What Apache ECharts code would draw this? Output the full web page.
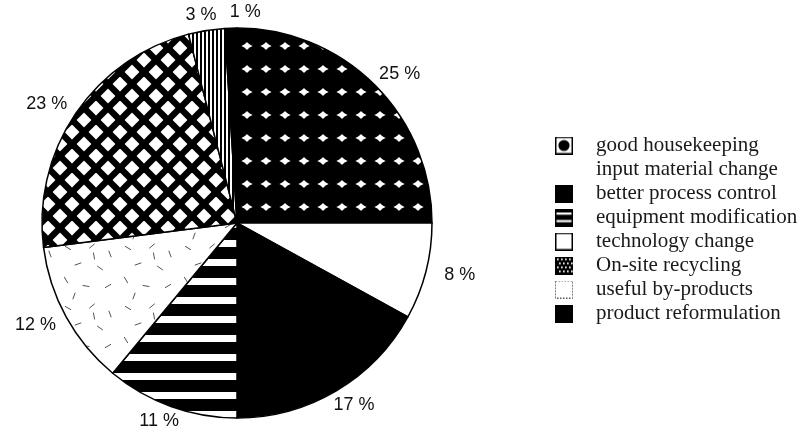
<!DOCTYPE html>
<html>
<head>
<meta charset="utf-8">
<script src="https://cdn.jsdelivr.net/npm/echarts@6/dist/echarts.min.js"></script>
<style>
html,body{margin:0;padding:0;background:#fff;}
#chart{width:811px;height:444px;}
</style>
</head>
<body>
<div id="chart"></div>
<script>
// ---- data ----
const categories = ['good housekeeping', 'input material change', 'better process control', 'equipment modification', 'technology change', 'On-site recycling', 'useful by-products', 'product reformulation'];
const values = [25, 8, 17, 11, 12, 23, 3, 1];
const labelSuffix = ' %';

// ---- layout constants ----
const CX = 237, CY = 223, R = 195, LRX = 230, LRY = 211, START = 90;

function tile(w, h, draw) {
  const c = document.createElement('canvas');
  c.width = w; c.height = h;
  const g = c.getContext('2d');
  draw(g, w, h);
  return c;
}

// slice patterns
const dots = tile(19, 23, (g, w, h) => {
  g.fillStyle = '#fff'; g.fillRect(0, 0, w, h);
  g.fillStyle = '#000';
  for (let i = -1; i <= 1; i++) for (let j = -1; j <= 1; j++) {
    g.beginPath(); g.arc(w / 2 + i * w, h / 2 + j * h, 12.1, 0, Math.PI * 2); g.fill();
  }
});
const hstripes = tile(8, 19, (g, w, h) => {
  g.fillStyle = '#fff'; g.fillRect(0, 0, w, h);
  g.fillStyle = '#000'; g.fillRect(0, 0, w, 12);
});
const vstripes = tile(4, 8, (g, w, h) => {
  g.fillStyle = '#fff'; g.fillRect(0, 0, w, h);
  g.fillStyle = '#000'; g.fillRect(0, 0, 2, h);
});
const cross = tile(24, 24, (g, w, h) => {
  g.fillStyle = '#fff'; g.fillRect(0, 0, w, h);
  g.strokeStyle = '#000'; g.lineWidth = 6.5;
  for (let c = -48; c <= 48; c += 24) {
    g.beginPath(); g.moveTo(c - 10, -10); g.lineTo(c + 40, 40); g.stroke();
    g.beginPath(); g.moveTo(c + 24 + 10, -10); g.lineTo(c + 24 - 40, 40); g.stroke();
  }
});
const dashes = tile(60, 60, (g, w, h) => {
  g.fillStyle = '#fff'; g.fillRect(0, 0, w, h);
  g.strokeStyle = '#555'; g.lineWidth = 1;
  const d = [[8, 8, 30], [32, 6, -40], [50, 14, 70], [18, 24, -20], [40, 28, 35], [6, 40, 60], [26, 46, 10], [48, 46, -30], [14, 56, -70], [34, 16, 80]];
  d.forEach(([x, y, a]) => {
    const r = a * Math.PI / 180, L = 3.5;
    g.beginPath(); g.moveTo(x - L * Math.cos(r), y - L * Math.sin(r)); g.lineTo(x + L * Math.cos(r), y + L * Math.sin(r)); g.stroke();
  });
});
const pat = (c) => ({ image: c, repeat: 'repeat' });
const sliceFills = [pat(dots), '#fff', '#000', pat(hstripes), pat(dashes), pat(cross), pat(vstripes), '#000'];

// legend icons
function icon(draw) {
  return 'image://' + tile(18, 18, (g, w, h) => draw(g, w, h)).toDataURL();
}
function box(g, w, h) { g.fillStyle = '#fff'; g.fillRect(0, 0, w, h); g.strokeStyle = '#000'; g.lineWidth = 1.5; g.strokeRect(0.75, 0.75, w - 1.5, h - 1.5); }
const icons = [
  icon((g, w, h) => { box(g, w, h); g.fillStyle = '#000'; g.beginPath(); g.arc(w / 2, h / 2, 5.6, 0, Math.PI * 2); g.fill(); }),
  icon(() => {}),
  icon((g, w, h) => { g.fillStyle = '#000'; g.fillRect(0, 0, w, h); }),
  icon((g, w, h) => { g.fillStyle = '#000'; g.fillRect(0, 0, w, h); g.fillStyle = '#fff'; g.fillRect(1.5, 4, w - 3, 2.2); g.fillRect(1.5, 11.5, w - 3, 2.2); }),
  icon((g, w, h) => { box(g, w, h); }),
  icon((g, w, h) => { g.fillStyle = '#000'; g.fillRect(0, 0, w, h); g.fillStyle = '#fff';
    for (let y = 2; y < h - 1; y += 4) for (let x = ((y / 4 | 0) % 2) * 2 + 2; x < w - 1; x += 4) g.fillRect(x, y, 1.7, 1.7); }),
  icon((g, w, h) => { g.fillStyle = '#fff'; g.fillRect(0, 0, w, h); g.strokeStyle = '#555'; g.lineWidth = 1; g.setLineDash([1.5, 1.5]); g.strokeRect(0.5, 0.5, w - 1, h - 1); }),
  icon((g, w, h) => { g.fillStyle = '#000'; g.fillRect(0, 0, w, h); })
];

// mid angles for labels, from the values
const total = values.reduce((a, b) => a + b, 0);
const mids = [];
{ let acc = 0; values.forEach(v => { mids.push(START - (acc + v / 2) / total * 360); acc += v; }); }

const chart = echarts.init(document.getElementById('chart'), null, { renderer: 'canvas' });
chart.setOption({
  animation: false,
  backgroundColor: '#fff',
  legend: {
    orient: 'vertical',
    left: 550, top: 130,
    itemWidth: 18, itemHeight: 18, itemGap: 3,
    selectedMode: false,
    textStyle: { fontFamily: 'Liberation Serif', fontSize: 21, color: '#1a1a1a', padding: [0, 0, 0, 18] },
    data: categories.map((n, i) => ({ name: n, icon: icons[i] }))
  },
  series: [{
    type: 'pie',
    center: [CX, CY],
    radius: [0, R],
    startAngle: START,
    clockwise: true,
    avoidLabelOverlap: false,
    silent: true,
    itemStyle: { borderColor: '#000', borderWidth: 1.5 },
    label: {
      show: true, position: 'outside',
      formatter: p => p.value + labelSuffix,
      fontFamily: 'Liberation Sans', fontSize: 18, color: '#111'
    },
    labelLine: { show: false },
    labelLayout: function (p) {
      const m = mids[p.dataIndex];
      const a = m * Math.PI / 180;
      const nearTop = Math.abs(m - 90) < 5 || Math.abs(m + 270) < 5;
      return { x: CX + LRX * Math.cos(a), y: CY - LRY * Math.sin(a), align: nearTop ? 'left' : 'center', verticalAlign: 'middle' };
    },
    data: categories.map((n, i) => ({ name: n, value: values[i], itemStyle: { color: sliceFills[i] } }))
  }]
});
</script>
</body>
</html>
